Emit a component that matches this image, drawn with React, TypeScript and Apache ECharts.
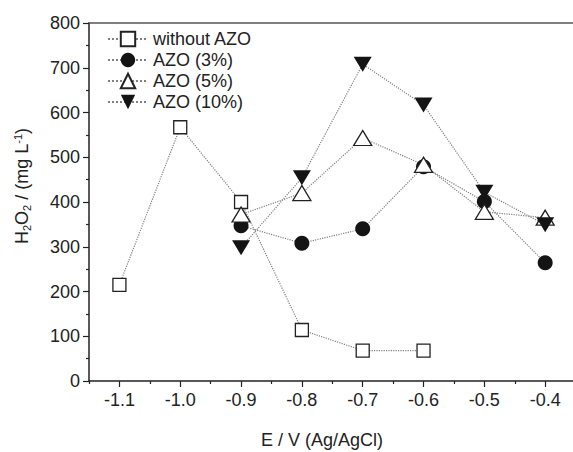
import React, { useEffect, useRef } from "react";
import * as echarts from "echarts";

const potentials = [-1.1, -1.0, -0.9, -0.8, -0.7, -0.6, -0.5, -0.4];
const withoutAZO = [215, 567, 400, 114, 68, 68, null, null];
const azo3 = [null, null, 347, 308, 340, 479, 401, 264];
const azo5 = [null, null, 372, 420, 543, 483, 378, 365];
const azo10 = [null, null, 298, 454, 708, 617, 422, 349];
const seriesNames = ["without AZO", "AZO (3%)", "AZO (5%)", "AZO (10%)"];
const xMajorTicks = [-1.1, -1.0, -0.9, -0.8, -0.7, -0.6, -0.5, -0.4];
const xMinorTicks = [-1.15, -1.05, -0.95, -0.85, -0.75, -0.65, -0.55, -0.45, -0.35];
const yTicks = [0, 100, 200, 300, 400, 500, 600, 700, 800];

const FONT = "'Liberation Sans', Arial, sans-serif";
const X_MIN = -1.15;
const X_MAX = -0.3;

function pairs(vals: (number | null)[]) {
  const out: [number, number][] = [];
  potentials.forEach((x, i) => {
    const v = vals[i];
    if (v !== null && v !== undefined) out.push([x, v]);
  });
  return out;
}

export default function App() {
  const ref = useRef<HTMLDivElement>(null);
  useEffect(() => {
    if (!ref.current) return;
    const chart = echarts.init(ref.current, undefined, { renderer: "svg" });
    const lineStyle = { type: "dotted" as const, color: "#808080", width: 1.2 };
    const common = {
      type: "line" as const,
      lineStyle,
      showSymbol: true,
      connectNulls: true,
    };
    chart.setOption({
      animation: false,
      backgroundColor: "#fff",
      grid: {
        left: 89,
        right: 34,
        top: 23,
        bottom: 71,
        outerBoundsMode: "none",
        containLabel: false,
        show: false,
      },
      legend: {
        left: 107,
        top: 30,
        orient: "vertical",
        padding: 0,
        itemWidth: 40,
        itemHeight: 18,
        itemGap: 3,
        data: seriesNames,
        textStyle: { fontFamily: FONT, fontSize: 18, color: "#222", lineHeight: 18, padding: [0, 0, 0, 0] },
      },
      xAxis: [
        {
          type: "value",
          position: "bottom",
          min: X_MIN,
          max: X_MAX,
          axisLine: { show: true, lineStyle: { color: "#222", width: 1.5 } },
          axisTick: { show: true, customValues: xMajorTicks, length: 6, lineStyle: { color: "#222", width: 1.2 } },
          axisLabel: {
            show: true,
            customValues: xMajorTicks,
            formatter: (v: number) => v.toFixed(1),
            fontFamily: FONT,
            fontSize: 18,
            color: "#222",
            margin: 10,
          },
          splitLine: { show: false },
        },
        {
          type: "value",
          position: "bottom",
          min: X_MIN,
          max: X_MAX,
          axisLine: { show: false },
          axisTick: { show: true, customValues: xMinorTicks, length: 3, lineStyle: { color: "#222", width: 1.2 } },
          axisLabel: { show: false },
          splitLine: { show: false },
        },
        {
          type: "value",
          position: "top",
          min: X_MIN,
          max: X_MAX,
          axisLine: { show: true, lineStyle: { color: "#555", width: 1.5 } },
          axisTick: { show: false },
          axisLabel: { show: false },
          splitLine: { show: false },
        },
      ],
      yAxis: {
        type: "value",
        min: 0,
        max: 800,
        interval: 100,
        axisLine: { show: true, lineStyle: { color: "#222", width: 1.5 } },
        axisTick: { show: true, length: 6, lineStyle: { color: "#222", width: 1.2 } },
        minorTick: { show: true, splitNumber: 2, length: 3, lineStyle: { color: "#222", width: 1.2 } },
        axisLabel: {
          fontFamily: FONT,
          fontSize: 18,
          color: "#222",
          margin: 9,
          formatter: (v: number) => (yTicks.includes(v) ? String(v) : ""),
        },
        splitLine: { show: false },
      },
      graphic: [
        {
          type: "text",
          x: 22,
          y: 186,
          rotation: Math.PI / 2,
          style: {
            text: "{n|H}{s|2}{n|O}{s|2}{n| / (mg L}{p|-1}{n|)}",
            align: "center",
            verticalAlign: "middle",
            fill: "#222",
            fontFamily: FONT,
            fontSize: 18,
            rich: {
              n: { fontFamily: FONT, fontSize: 18, lineHeight: 20, fill: "#222" },
              s: { fontFamily: FONT, fontSize: 11, lineHeight: 12, verticalAlign: "bottom", fill: "#222" },
              p: { fontFamily: FONT, fontSize: 11, lineHeight: 9, verticalAlign: "top", fill: "#222" },
            },
          },
        },
        {
          type: "text",
          x: 322,
          y: 440,
          style: {
            text: "E / V (Ag/AgCl)",
            align: "center",
            verticalAlign: "middle",
            fill: "#222",
            fontFamily: FONT,
            fontSize: 18,
          },
        },
      ],
      series: [
        {
          ...common,
          name: seriesNames[0],
          data: pairs(withoutAZO),
          symbol: "rect",
          symbolSize: 13,
          itemStyle: { color: "#fff", borderColor: "#222", borderWidth: 1.3 },
        },
        {
          ...common,
          name: seriesNames[1],
          data: pairs(azo3),
          symbol: "circle",
          symbolSize: 15,
          itemStyle: { color: "#141414", borderColor: "#141414", borderWidth: 0 },
        },
        {
          ...common,
          name: seriesNames[2],
          data: pairs(azo5),
          symbol: "triangle",
          symbolSize: [18, 15],
          itemStyle: { color: "#fff", borderColor: "#222", borderWidth: 1.3 },
        },
        {
          ...common,
          name: seriesNames[3],
          data: pairs(azo10),
          symbol: "triangle",
          symbolRotate: 180,
          symbolSize: [18, 15],
          itemStyle: { color: "#141414", borderColor: "#141414", borderWidth: 0 },
        },
      ],
    });
    return () => chart.dispose();
  }, []);
  return (
    <div style={{ width: 573, height: 452, position: "absolute", left: 0, top: 0, overflow: "hidden", background: "#fff" }}>
      <div ref={ref} style={{ width: 640, height: 452 }} />
    </div>
  );
}
